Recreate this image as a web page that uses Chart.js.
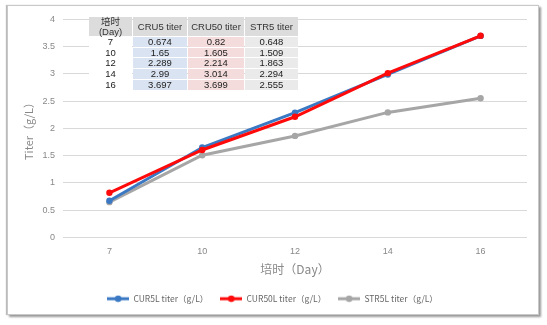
<!DOCTYPE html>
<html>
<head>
<meta charset="utf-8">
<script src="https://cdn.jsdelivr.net/npm/chart.js@4/dist/chart.umd.min.js"></script>
<style>
  body { margin: 0; background: #fff; width: 547px; height: 325px; position: relative; overflow: hidden; }
  #frame {
    position: absolute; left: 7px; top: 5px; width: 530px; height: 308px;
    background: #fff; border: 1px solid #c8c8c8;
    box-shadow: 2px 2px 2px #999, -1px 0 1px #bbb;
  }
  #frame canvas { position: absolute; left: 0; top: 0; }
  #tbl {
    position: absolute; left: 80px; top: 10px;
    border-collapse: separate; border-spacing: 1px;
    font-family: "Liberation Sans", "Noto Sans CJK SC", sans-serif;
    font-size: 9.5px; color: #222; text-align: center;
  }
  #tbl td, #tbl th { padding: 0; height: 9.7px; line-height: 9.7px; font-weight: normal; }
  #tbl th { background: #dcdcdc; height: 19px; line-height: 9.5px; color: #333; }
  #tbl td.c0 { background: #fff; width: 43px; }
  #tbl td.c1 { background: #dae3f1; width: 54px; }
  #tbl td.c2 { background: #f5dcdc; width: 56px; }
  #tbl td.c3 { background: #eaeaea; width: 53px; }
</style>
</head>
<body>
<div id="frame">
  <canvas id="titerChart" width="530" height="308"></canvas>
  <table id="tbl"></table>
</div>
<script>
// culture days and titer values (g/L)
const days = ['7', '10', '12', '14', '16'];
const cur5 = [0.674, 1.65, 2.289, 2.99, 3.697];
const cur50 = [0.82, 1.605, 2.214, 3.014, 3.699];
const str5 = [0.648, 1.509, 1.863, 2.294, 2.555];

const seriesNames = ['CUR5L titer（g/L）', 'CUR50L titer（g/L）', 'STR5L titer（g/L）'];
const tableHeads = ['培时<br>(Day)', 'CRU5 titer', 'CRU50 titer', 'STR5 titer'];
const colors = ['#3a78c3', '#ff0a0a', '#a6a6a6'];

// data table in the top-left corner of the plot
const tbl = document.getElementById('tbl');
let html = '<tr>' + tableHeads.map(h => '<th>' + h + '</th>').join('') + '</tr>';
days.forEach((d, i) => {
    html += '<tr><td class="c0">' + d + '</td><td class="c1">' + cur5[i] + '</td><td class="c2">' +
        cur50[i] + '</td><td class="c3">' + str5[i] + '</td></tr>';
});
tbl.innerHTML = html;

// legend marker: short line with a dot
function legendMark(color) {
    const c = document.createElement('canvas');
    c.width = 22; c.height = 8;
    const g = c.getContext('2d');
    g.strokeStyle = color; g.lineWidth = 3;
    g.beginPath(); g.moveTo(0, 4); g.lineTo(22, 4); g.stroke();
    g.fillStyle = color;
    g.beginPath(); g.arc(11, 4, 3.3, 0, Math.PI * 2); g.fill();
    return c;
}

const values = [cur5, cur50, str5];
const ctx = document.getElementById('titerChart');
new Chart(ctx, {
    type: 'line',
    data: {
        labels: days,
        datasets: values.map((v, i) => ({
            label: seriesNames[i],
            data: v,
            borderColor: colors[i],
            backgroundColor: colors[i],
            borderWidth: 3,
            pointRadius: 3.2,
            pointBorderWidth: 0,
            tension: 0,
            order: i === 2 ? 3 : (i === 1 ? 1 : 2)
        }))
    },
    options: {
        responsive: false,
        animation: false,
        layout: { padding: { left: 10, right: 11, top: 13, bottom: 1 } },
        plugins: {
            tooltip: { enabled: false },
            legend: {
                position: 'bottom',
                labels: {
                    usePointStyle: true,
                    pointStyleWidth: 22,
                    color: '#666',
                    font: { size: 8.5, family: '"Liberation Sans Narrow", "Noto Sans CJK SC", sans-serif' },
                    padding: 12,
                    generateLabels: function (chart) {
                        return chart.data.datasets.map((ds, i) => ({
                            text: ds.label,
                            pointStyle: legendMark(colors[i]),
                            fontColor: '#666',
                            lineWidth: 0,
                            datasetIndex: i
                        }));
                    }
                }
            }
        },
        scales: {
            x: {
                offset: true,
                grid: { display: false, drawTicks: false },
                border: { display: false },
                ticks: { color: '#888', font: { size: 9, family: '"Liberation Sans", sans-serif' }, padding: 9 },
                title: {
                    display: true,
                    text: '培时（Day）',
                    color: '#888',
                    font: { size: 12, family: '"Noto Sans CJK SC", sans-serif' },
                    padding: { top: 2, bottom: 6 }
                },
                afterFit: function (scale) { scale.height = 45; }
            },
            y: {
                min: 0,
                max: 4,
                ticks: {
                    stepSize: 0.5,
                    color: '#888',
                    font: { size: 9, family: '"Liberation Sans", sans-serif' },
                    padding: 8,
                    callback: v => String(v)
                },
                grid: { color: '#d9d9d9', drawTicks: false },
                border: { display: false },
                title: {
                    display: true,
                    text: 'Titer（g/L）',
                    color: '#888',
                    font: { size: 11, family: '"Noto Sans CJK SC", sans-serif' }
                },
                afterFit: function (scale) { scale.width = 45; }
            }
        }
    }
});
</script>
</body>
</html>
